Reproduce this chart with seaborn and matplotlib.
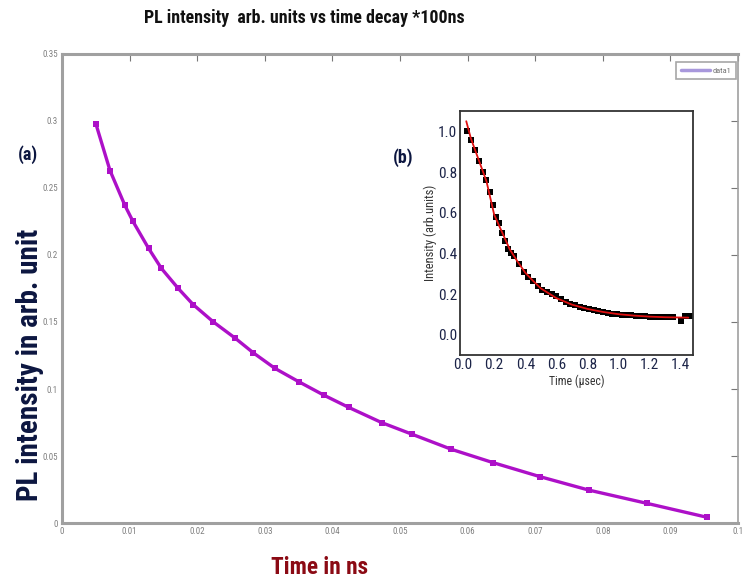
import numpy as np
import pandas as pd
import matplotlib.pyplot as plt
import seaborn as sns
from matplotlib import font_manager as fm

# main panel (a): PL decay
time_ns = [0.0050, 0.0071, 0.0093, 0.0105, 0.0128, 0.0147, 0.0172, 0.0194, 0.0224,
           0.0256, 0.0283, 0.0315, 0.0350, 0.0387, 0.0424, 0.0473, 0.0517, 0.0576,
           0.0638, 0.0707, 0.0779, 0.0865, 0.0954]
pl_int = [0.298, 0.263, 0.237, 0.225, 0.205, 0.190, 0.175, 0.163, 0.150,
          0.138, 0.127, 0.1154, 0.1055, 0.0955, 0.0863, 0.0749, 0.0664, 0.0550,
          0.0450, 0.0346, 0.0246, 0.0147, 0.0043]
main_xticks = [0, 0.01, 0.02, 0.03, 0.04, 0.05, 0.06, 0.07, 0.08, 0.09, 0.1]
main_xlabels = ['0', '0.01', '0.02', '0.03', '0.04', '0.05', '0.06', '0.07', '0.08', '0.09', '0.1']
main_yticks = [0, 0.05, 0.1, 0.15, 0.2, 0.25, 0.3, 0.35]
main_ylabels = ['0', '0.05', '0.1', '0.15', '0.2', '0.25', '0.3', '0.35']

# inset (b): measured points and fit
t_us = [0.025, 0.05, 0.075, 0.10, 0.125, 0.15, 0.17, 0.19, 0.21, 0.23, 0.25, 0.27,
        0.29, 0.31, 0.33, 0.36, 0.39, 0.42, 0.45, 0.48, 0.51, 0.54, 0.57, 0.60,
        0.63, 0.66, 0.69, 0.72, 0.75, 0.78, 0.81, 0.84, 0.87, 0.90, 0.93, 0.96,
        0.99, 1.02, 1.05, 1.08, 1.11, 1.14, 1.17, 1.20, 1.23, 1.26, 1.29, 1.32,
        1.35, 1.40, 1.43, 1.46]
inten = [1.00, 0.96, 0.91, 0.855, 0.80, 0.76, 0.70, 0.64, 0.58, 0.55, 0.50, 0.46,
         0.42, 0.40, 0.385, 0.35, 0.31, 0.285, 0.262, 0.24, 0.222, 0.212, 0.20, 0.19,
         0.175, 0.16, 0.15, 0.145, 0.138, 0.133, 0.127, 0.122, 0.118, 0.113, 0.109, 0.104,
         0.100, 0.098, 0.096, 0.095, 0.093, 0.091, 0.090, 0.088, 0.087, 0.087, 0.087, 0.086,
         0.086, 0.068, 0.090, 0.090]
fit_t = [0.02, 0.05, 0.10, 0.15, 0.20, 0.25, 0.30, 0.35, 0.40, 0.45, 0.50, 0.60,
         0.70, 0.80, 0.90, 1.00, 1.10, 1.20, 1.30, 1.45]
fit_y = [1.05, 0.965, 0.86, 0.755, 0.59, 0.505, 0.42, 0.36, 0.305, 0.265, 0.228, 0.18,
         0.148, 0.127, 0.112, 0.101, 0.094, 0.089, 0.086, 0.084]

sns.set_theme(style="white")

# pick a narrow face if one is installed
installed = {f.name for f in fm.fontManager.ttflist}
narrow_faces = ['Liberation Sans Narrow', 'Roboto Condensed', 'DejaVu Sans Condensed',
                'Noto Sans Condensed', 'Open Sans Condensed', 'Liberation Sans']
narrow = next((n for n in narrow_faces if n in installed), 'DejaVu Sans')
plt.rcParams['font.family'] = [narrow, 'DejaVu Sans']

fig = plt.figure(figsize=(7.42, 5.83), dpi=100)


def fit_text(t, target_px, vertical=False):
    # scale font so the drawn text spans target_px
    r = fig.canvas.get_renderer()
    bb = t.get_window_extent(r)
    cur = bb.height if vertical else bb.width
    t.set_fontsize(t.get_fontsize() * target_px / cur)


# ---- main panel
ax = fig.add_axes([0.0836, 0.1029, 0.9110, 0.8045])
df = pd.DataFrame({'t': time_ns, 'I': pl_int})
sns.lineplot(data=df, x='t', y='I', ax=ax, color='#ad10c8', lw=2.4,
             marker='s', markersize=4, markeredgewidth=0, label='data1')
ax.set_xlim(0, 0.1)
ax.set_ylim(0, 0.35)
ax.set_xticks(main_xticks)
ax.set_xticklabels(main_xlabels)
ax.set_yticks(main_yticks)
ax.set_yticklabels(main_ylabels)
ax.tick_params(direction='in', length=5, width=0.8, color='#777777', labelcolor='#808080',
               labelsize=6.5, top=True, right=True, pad=3)
for side, sp in ax.spines.items():
    sp.set_color('#a0a0a0')
    sp.set_linewidth(2.2 if side in ('left', 'bottom', 'top') else 1.2)
ax.set_xlabel('')
ax.set_ylabel('')

leg = ax.legend(loc='upper right', bbox_to_anchor=(0.997, 0.983), borderaxespad=0,
                fontsize=6, handlelength=3.5, frameon=True, fancybox=False,
                borderpad=0.6, handletextpad=0.3)
leg.get_frame().set_edgecolor('#909090')
leg.get_frame().set_linewidth(1.2)
for ln in leg.get_lines():
    ln.set_color('#a898dc')
    ln.set_marker('')
    ln.set_linewidth(2.5)
for txt in leg.get_texts():
    txt.set_color('#707070')

# ---- inset
ins = fig.add_axes([0.620, 0.391, 0.314, 0.4185])
sns.scatterplot(x=t_us, y=inten, ax=ins, marker='s', s=22, color='black',
                edgecolor='black', linewidth=0, zorder=2)
sns.lineplot(x=fit_t, y=fit_y, ax=ins, color='#e01010', lw=1.3, zorder=3)
ins.set_xlim(-0.02, 1.48)
ins.set_ylim(-0.1, 1.1)
ins.set_xticks([0.0, 0.2, 0.4, 0.6, 0.8, 1.0, 1.2, 1.4])
ins.set_xticklabels(['0.0', '0.2', '0.4', '0.6', '0.8', '1.0', '1.2', '1.4'])
ins.set_yticks([0.0, 0.2, 0.4, 0.6, 0.8, 1.0])
ins.set_yticklabels(['0.0', '0.2', '0.4', '0.6', '0.8', '1.0'])
ins.set_xticks(np.array([0.1, 0.3, 0.5, 0.7, 0.9, 1.1, 1.3]), minor=True)
ins.set_yticks(np.array([-0.1, 0.1, 0.3, 0.5, 0.7, 0.9]), minor=True)
ins.tick_params(which='both', direction='in', color='#222222', labelcolor='#1c2448',
                labelsize=11, pad=2)
ins.tick_params(which='major', length=4, width=1)
ins.tick_params(which='minor', length=2.5, width=0.8)
for sp in ins.spines.values():
    sp.set_color('#333333')
    sp.set_linewidth(1.3)
ins.set_xlabel('Time (\u00b5sec)', fontsize=8.5, color='#333333', labelpad=2)
ins.set_ylabel('Intensity (arb.units)', fontsize=9, color='#333333', labelpad=1)

# ---- figure texts
title = fig.text(0.41, 0.969, 'PL intensity  arb. units vs time decay *100ns', ha='center',
                 va='center', fontsize=11.5, fontweight='bold', color='#111111')
ylab = fig.text(0.040, 0.374, 'PL intensity in arb. unit', rotation=90, ha='center',
                va='center', fontsize=15, fontweight='bold', color='#0c1640')
xlab = fig.text(0.431, 0.026, 'Time in ns', ha='center', va='center', fontsize=15,
                fontweight='bold', color='#8b0a14')
fig.text(0.038, 0.734, '(a)', ha='center', va='center', fontsize=13,
         fontweight='bold', color='#0c1640')
fig.text(0.543, 0.729, '(b)', ha='center', va='center', fontsize=13,
         fontweight='bold', color='#0c1640')

fit_text(title, 322)
fit_text(ylab, 272, vertical=True)
fit_text(xlab, 97)

fig.savefig('out.png', dpi=100)
